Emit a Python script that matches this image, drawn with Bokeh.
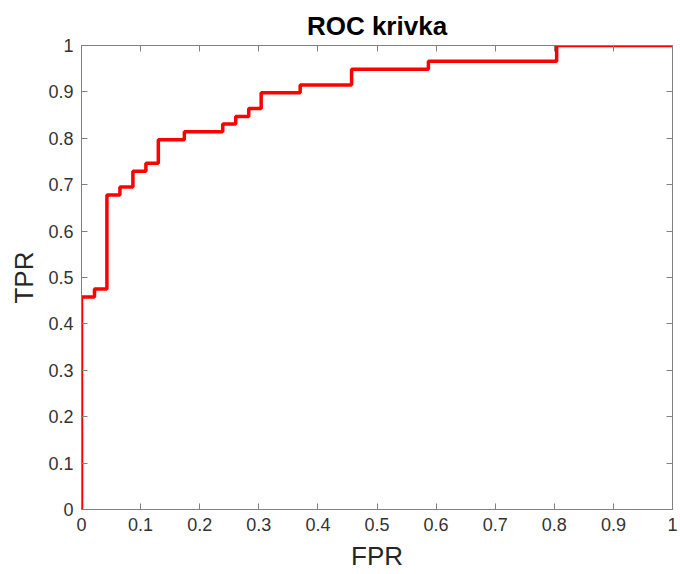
from bokeh.plotting import figure
from bokeh.models import Range1d, LinearAxis, FixedTicker
from bokeh.embed import file_html
from bokeh.resources import INLINE

# ROC curve points
fpr = [0.0, 0.0, 0.022, 0.043, 0.065, 0.087, 0.109, 0.130, 0.174, 0.239,
       0.261, 0.283, 0.304, 0.370, 0.457, 0.587, 0.804, 1.0]
tpr = [0.0, 0.458, 0.475, 0.678, 0.695, 0.729, 0.746, 0.797, 0.814, 0.831,
       0.847, 0.864, 0.898, 0.915, 0.949, 0.966, 1.0, 1.0]

tick_values = [0.0, 0.1, 0.2, 0.3, 0.4, 0.5, 0.6, 0.7, 0.8, 0.9, 1.0]
tick_labels = ["0", "0.1", "0.2", "0.3", "0.4", "0.5", "0.6", "0.7", "0.8", "0.9", "1"]

title_text = "ROC krivka"
x_label = "FPR"
y_label = "TPR"

FONT = "Liberation Sans"
AXIS_COLOR = "#808080"
LABEL_COLOR = "#333333"

p = figure(width=680, height=574, output_backend="svg", toolbar_location=None,
           x_range=Range1d(0, 1), y_range=Range1d(0, 1),
           x_axis_location=None, y_axis_location=None,
           min_border_left=81, min_border_right=8, min_border_top=45, min_border_bottom=65)

p.title.text = title_text
p.title.align = "center"
p.title.text_font = FONT
p.title.text_font_size = "26px"
p.title.text_font_style = "bold"
p.title.text_color = "#000000"
p.title.standoff = 9

p.xgrid.visible = False
p.ygrid.visible = False
p.outline_line_color = AXIS_COLOR
p.background_fill_color = "white"
p.border_fill_color = "white"

overrides = {v: s for v, s in zip(tick_values, tick_labels)}

def make_axis(show_labels, axis_label=None, label_standoff=10):
    ax = LinearAxis(ticker=FixedTicker(ticks=tick_values))
    ax.axis_line_color = AXIS_COLOR
    ax.major_tick_line_color = AXIS_COLOR
    ax.major_tick_in = 6
    ax.major_tick_out = 0
    ax.minor_tick_line_color = None
    if show_labels:
        ax.major_label_overrides = overrides
        ax.major_label_text_font = FONT
        ax.major_label_text_font_size = "18px"
        ax.major_label_text_color = LABEL_COLOR
        ax.major_label_standoff = 8
        ax.axis_label = axis_label
        ax.axis_label_text_font = FONT
        ax.axis_label_text_font_size = "26px"
        ax.axis_label_text_font_style = "normal"
        ax.axis_label_text_color = "#262626"
        ax.axis_label_standoff = label_standoff
    else:
        ax.major_label_text_color = None
        ax.major_label_text_font_size = "1px"
        ax.major_label_standoff = 0
    return ax

p.add_layout(make_axis(True, x_label, 7), "below")
p.add_layout(make_axis(True, y_label, 6), "left")
p.add_layout(make_axis(False), "above")
p.add_layout(make_axis(False), "right")

p.step(fpr, tpr, mode="after", line_color="#ff0000", line_width=3.5)

open("out.html", "w").write(file_html(p, INLINE))
